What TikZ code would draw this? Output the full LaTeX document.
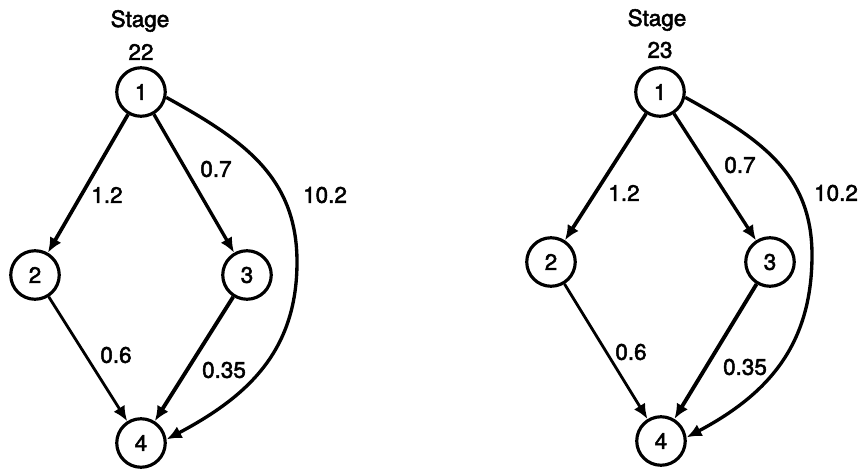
\documentclass[tikz,border=0pt]{standalone}
\usepackage{fontspec}
\setmainfont{TeX Gyre Heros}[FakeBold=2.2]
\usetikzlibrary{arrows.meta}

\begin{document}
\begin{tikzpicture}[x=0.2mm, y=0.2mm, every node/.style={font=\fontsize{12.8}{15}\selectfont}, >={Latex[length=3mm, width=2.6mm]},
	state/.style={draw, circle, line width=1.8pt, minimum size=9.7mm, inner sep=0pt},
	link/.style={->, line width=1.9pt}]
	\useasboundingbox (0,0) rectangle (861,-468);
	\node (astage) at (140,-21) {Stage};
	\node (anum) at (141,-52) {22};
	\node[state] (a1) at (141,-92) {1};
	\node[state] (a2) at (35,-275) {2};
	\node[state] (a3) at (247,-275) {3};
	\node[state] (a4) at (141,-443) {4};
	\coordinate (abend) at (297,-262);
	\draw[link, line width=2.1pt] (a1) -- (a2);
	\draw[link] (a1) -- (a3);
	\draw[link, line width=1.6pt] (a2) -- (a4);
	\draw[link, line width=2.2pt] (a3) -- (a4);
	\draw[link] (a1.-12) to[out=-29, in=90, looseness=1.05] (abend) to[out=-90, in=28, looseness=1.05] (a4.8);
	\node (a12) at (107,-195) {1.2};
	\node (a13) at (216,-169) {0.7};
	\node (a14) at (325,-195) {10.2};
	\node (a24) at (116,-355) {0.6};
	\node (a34) at (224,-370) {0.35};

	\node (bstage) at (657,-20) {Stage};
	\node (bnum) at (660,-50) {23};
	\node[state] (b1) at (660,-92) {1};
	\node[state] (b2) at (551,-262) {2};
	\node[state] (b3) at (770,-262) {3};
	\node[state] (b4) at (661,-441) {4};
	\coordinate (bbend) at (812,-255);
	\draw[link, line width=2.1pt] (b1) -- (b2);
	\draw[link] (b1) -- (b3);
	\draw[link, line width=1.6pt] (b2) -- (b4);
	\draw[link, line width=2.2pt] (b3) -- (b4);
	\draw[link] (b1.-12) to[out=-29, in=90, looseness=1.05] (bbend) to[out=-90, in=28, looseness=1.05] (b4.8);
	\node (b12) at (624,-193) {1.2};
	\node (b13) at (740,-165) {0.7};
	\node (b14) at (836,-193) {10.2};
	\node (b24) at (631,-352) {0.6};
	\node (b34) at (745,-367) {0.35};
\end{tikzpicture}
\end{document}
